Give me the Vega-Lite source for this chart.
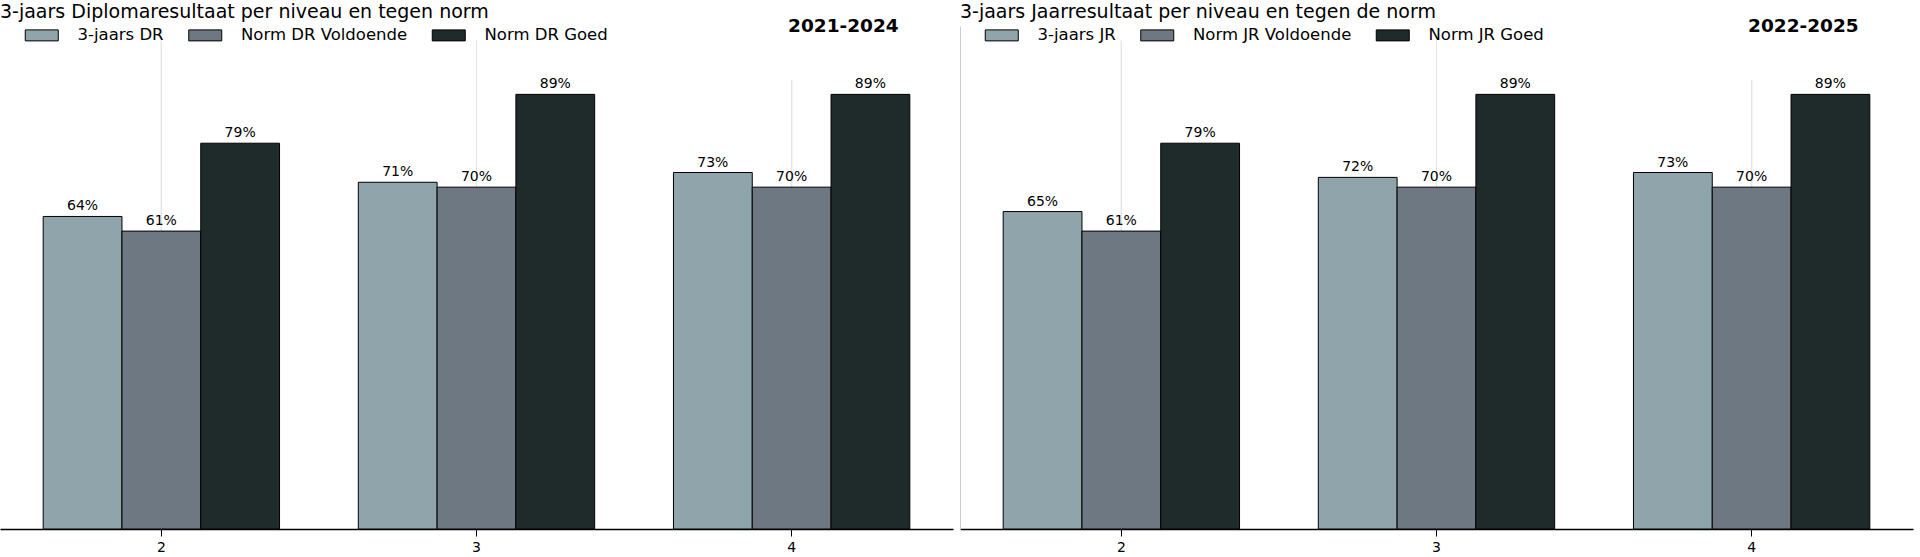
{
  "$schema": "https://vega.github.io/schema/vega-lite/v6.json",
  "background": "white",
  "padding": {"left": 0, "top": 2, "right": 7, "bottom": 0},
  "config": {
    "font": "DejaVu Sans",
    "view": {"stroke": null},
    "title": {"fontSize": 19, "fontWeight": "normal", "anchor": "start", "color": "#000", "offset": -4.5},
    "axisX": {
      "title": null, "labelAngle": 0, "grid": false,
      "domainColor": "#000", "domainWidth": 1.5,
      "tickColor": "#000", "tickSize": 7, "tickWidth": 1,
      "labelFontSize": 14, "labelColor": "#000", "labelPadding": 4
    },
    "legend": {
      "title": null, "orient": "none", "legendX": 33.5, "legendY": 1,
      "direction": "horizontal", "padding": 0, "labelLimit": 400,
      "symbolType": "M-3,-1H3V1H-3Z", "symbolSize": 121,
      "symbolStrokeColor": "#000", "symbolStrokeWidth": 1, "symbolOpacity": 1,
      "labelFontSize": 16.5, "labelColor": "#000", "labelOffset": 27.5, "columnPadding": 21.5
    }
  },
  "datasets": {
    "dr": [
      {"niveau": "2", "reeks": "3-jaars DR", "waarde": 0.64},
      {"niveau": "2", "reeks": "Norm DR Voldoende", "waarde": 0.61},
      {"niveau": "2", "reeks": "Norm DR Goed", "waarde": 0.79},
      {"niveau": "3", "reeks": "3-jaars DR", "waarde": 0.71},
      {"niveau": "3", "reeks": "Norm DR Voldoende", "waarde": 0.70},
      {"niveau": "3", "reeks": "Norm DR Goed", "waarde": 0.89},
      {"niveau": "4", "reeks": "3-jaars DR", "waarde": 0.73},
      {"niveau": "4", "reeks": "Norm DR Voldoende", "waarde": 0.70},
      {"niveau": "4", "reeks": "Norm DR Goed", "waarde": 0.89}
    ],
    "jr": [
      {"niveau": "2", "reeks": "3-jaars JR", "waarde": 0.65},
      {"niveau": "2", "reeks": "Norm JR Voldoende", "waarde": 0.61},
      {"niveau": "2", "reeks": "Norm JR Goed", "waarde": 0.79},
      {"niveau": "3", "reeks": "3-jaars JR", "waarde": 0.72},
      {"niveau": "3", "reeks": "Norm JR Voldoende", "waarde": 0.70},
      {"niveau": "3", "reeks": "Norm JR Goed", "waarde": 0.89},
      {"niveau": "4", "reeks": "3-jaars JR", "waarde": 0.73},
      {"niveau": "4", "reeks": "Norm JR Voldoende", "waarde": 0.70},
      {"niveau": "4", "reeks": "Norm JR Goed", "waarde": 0.89}
    ]
  },
  "spacing": 7,
  "resolve": {"scale": {"color": "independent", "x": "independent", "xOffset": "independent", "y": "independent"}},
  "hconcat": [
    {
      "title": "3-jaars Diplomaresultaat per niveau en tegen norm",
      "width": 953,
      "height": 503,
      "resolve": {"scale": {"x": "independent"}},
      "layer": [
        {
          "data": {"name": "dr"},
          "layer": [
            {
              "transform": [{"filter": "datum.niveau != '4'"}],
              "mark": {"type": "rule", "color": "#e4e4e4", "strokeWidth": 1},
              "encoding": {
                "x": {"field": "niveau", "type": "nominal"},
                "y": {"datum": 0, "type": "quantitative", "axis": null},
                "y2": {"datum": 1}
              }
            },
            {
              "transform": [{"filter": "datum.niveau == '4'"}],
              "mark": {"type": "rule", "color": "#e4e4e4", "strokeWidth": 1},
              "encoding": {
                "x": {"field": "niveau", "type": "nominal"},
                "y": {"datum": 0, "type": "quantitative", "axis": null},
                "y2": {"datum": 0.919}
              }
            },
            {
              "mark": {"type": "bar", "stroke": "#000", "strokeWidth": 1},
              "encoding": {
                "x": {"field": "niveau", "type": "nominal", "scale": {"paddingInner": 0.25, "paddingOuter": 0.137}},
                "xOffset": {"field": "reeks", "type": "nominal", "scale": {"domain": ["3-jaars DR", "Norm DR Voldoende", "Norm DR Goed"], "paddingInner": 0, "paddingOuter": 0}},
                "y": {"field": "waarde", "type": "quantitative", "scale": {"domain": [0, 1.03], "nice": false}, "axis": null},
                "color": {
                  "field": "reeks", "type": "nominal",
                  "scale": {"domain": ["3-jaars DR", "Norm DR Voldoende", "Norm DR Goed"], "range": ["#8fa5ab", "#6e7883", "#1f2b2b"]}
                }
              }
            },
            {
              "mark": {"type": "text", "baseline": "bottom", "dy": -3, "fontSize": 14, "color": "#000"},
              "encoding": {
                "x": {"field": "niveau", "type": "nominal"},
                "xOffset": {"field": "reeks", "type": "nominal"},
                "y": {"field": "waarde", "type": "quantitative", "axis": null},
                "text": {"field": "waarde", "type": "quantitative", "format": ".0%"}
              }
            }
          ]
        },
        {
          "data": {"values": [{"periode": "2021-2024"}]},
          "mark": {"type": "text", "fontSize": 18.5, "fontWeight": "bold", "align": "center", "baseline": "middle", "color": "#000"},
          "encoding": {
            "x": {"datum": 0.885, "type": "quantitative", "scale": {"domain": [0, 1]}, "axis": null},
            "y": {"datum": 1.03, "type": "quantitative", "axis": null},
            "text": {"field": "periode", "type": "nominal"}
          }
        }
      ]
    },
    {
      "title": "3-jaars Jaarresultaat per niveau en tegen de norm",
      "width": 953,
      "height": 503,
      "resolve": {"scale": {"x": "independent"}},
      "layer": [
        {
          "data": {"name": "jr"},
          "layer": [
            {
              "transform": [{"filter": "datum.niveau != '4'"}],
              "mark": {"type": "rule", "color": "#e4e4e4", "strokeWidth": 1},
              "encoding": {
                "x": {"field": "niveau", "type": "nominal"},
                "y": {"datum": 0, "type": "quantitative", "axis": {"domainColor": "#cccccc", "domainWidth": 1, "labels": false, "ticks": false, "grid": false, "title": null}},
                "y2": {"datum": 1}
              }
            },
            {
              "transform": [{"filter": "datum.niveau == '4'"}],
              "mark": {"type": "rule", "color": "#e4e4e4", "strokeWidth": 1},
              "encoding": {
                "x": {"field": "niveau", "type": "nominal"},
                "y": {"datum": 0, "type": "quantitative", "axis": {"domainColor": "#cccccc", "domainWidth": 1, "labels": false, "ticks": false, "grid": false, "title": null}},
                "y2": {"datum": 0.919}
              }
            },
            {
              "mark": {"type": "bar", "stroke": "#000", "strokeWidth": 1},
              "encoding": {
                "x": {"field": "niveau", "type": "nominal", "scale": {"paddingInner": 0.25, "paddingOuter": 0.137}},
                "xOffset": {"field": "reeks", "type": "nominal", "scale": {"domain": ["3-jaars JR", "Norm JR Voldoende", "Norm JR Goed"], "paddingInner": 0, "paddingOuter": 0}},
                "y": {"field": "waarde", "type": "quantitative", "scale": {"domain": [0, 1.03], "nice": false}, "axis": {"domainColor": "#cccccc", "domainWidth": 1, "labels": false, "ticks": false, "grid": false, "title": null}},
                "color": {
                  "field": "reeks", "type": "nominal",
                  "scale": {"domain": ["3-jaars JR", "Norm JR Voldoende", "Norm JR Goed"], "range": ["#8fa5ab", "#6e7883", "#1f2b2b"]}
                }
              }
            },
            {
              "mark": {"type": "text", "baseline": "bottom", "dy": -3, "fontSize": 14, "color": "#000"},
              "encoding": {
                "x": {"field": "niveau", "type": "nominal"},
                "xOffset": {"field": "reeks", "type": "nominal"},
                "y": {"field": "waarde", "type": "quantitative", "axis": {"domainColor": "#cccccc", "domainWidth": 1, "labels": false, "ticks": false, "grid": false, "title": null}},
                "text": {"field": "waarde", "type": "quantitative", "format": ".0%"}
              }
            }
          ]
        },
        {
          "data": {"values": [{"periode": "2022-2025"}]},
          "mark": {"type": "text", "fontSize": 18.5, "fontWeight": "bold", "align": "center", "baseline": "middle", "color": "#000"},
          "encoding": {
            "x": {"datum": 0.885, "type": "quantitative", "scale": {"domain": [0, 1]}, "axis": null},
            "y": {"datum": 1.03, "type": "quantitative", "axis": {"domainColor": "#cccccc", "domainWidth": 1, "labels": false, "ticks": false, "grid": false, "title": null}},
            "text": {"field": "periode", "type": "nominal"}
          }
        }
      ]
    }
  ]
}
